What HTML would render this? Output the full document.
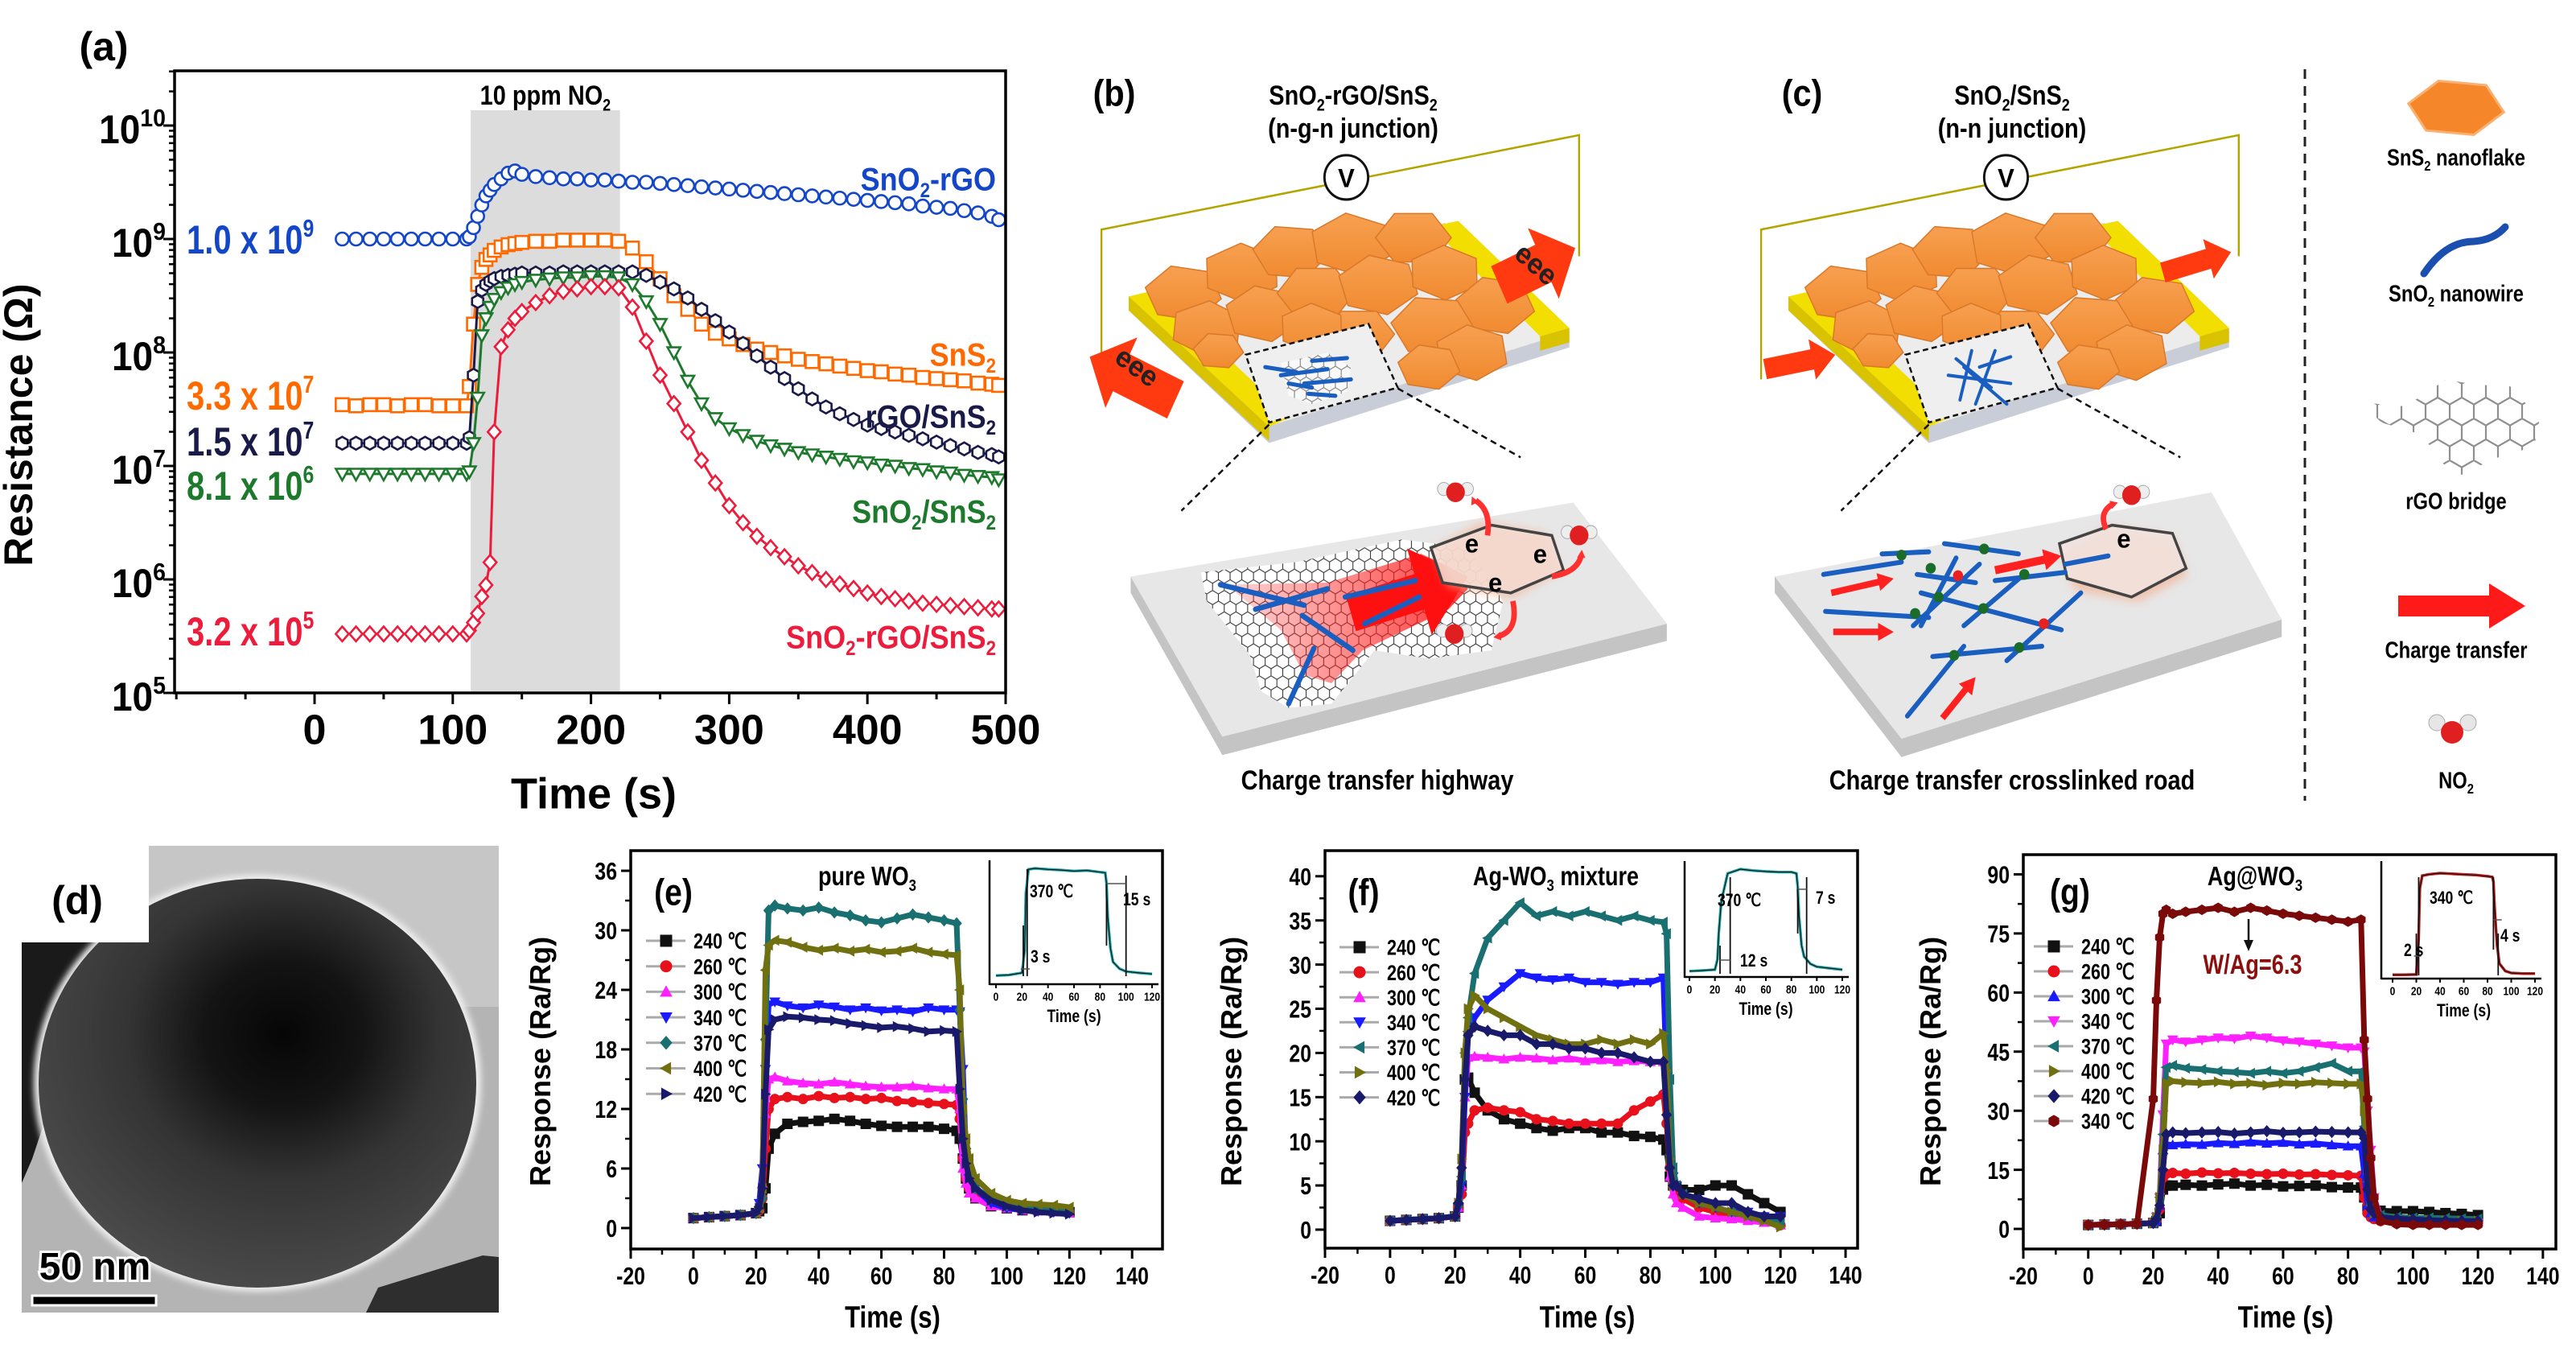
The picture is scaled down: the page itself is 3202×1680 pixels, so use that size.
<!DOCTYPE html>
<html><head><meta charset="utf-8">
<style>
html,body{margin:0;padding:0;background:#fff}
svg{display:block}
text{font-family:"Liberation Sans",sans-serif;font-weight:bold}
</style></head>
<body>
<svg id="fig" width="3202" height="1680" viewBox="0 0 3202 1680" xmlns="http://www.w3.org/2000/svg">
<defs>
  <pattern id="hexp" width="30" height="52" patternUnits="userSpaceOnUse">
    <rect width="30" height="52" fill="#fff"/>
    <path d="M15,0 L30,8.66 L30,26 L15,34.64 L0,26 L0,8.66 Z M15,34.64 L15,52 M0,26 L0,8.66" fill="none" stroke="#333" stroke-width="2.2"/>
  </pattern>
  <radialGradient id="temcore" cx="0.56" cy="0.38" r="0.65">
    <stop offset="0" stop-color="#060606"/>
    <stop offset="0.28" stop-color="#141414"/>
    <stop offset="0.55" stop-color="#343434"/>
    <stop offset="1" stop-color="#4c4c4c"/>
  </radialGradient>
  <linearGradient id="flakeg" x1="0" y1="0" x2="0" y2="1">
    <stop offset="0" stop-color="#f7a050"/>
    <stop offset="1" stop-color="#f08a30"/>
  </linearGradient>
  <linearGradient id="fang" x1="0" y1="0" x2="1" y2="0">
    <stop offset="0" stop-color="#ff3030" stop-opacity="0.2"/>
    <stop offset="1" stop-color="#ff1010" stop-opacity="0.85"/>
  </linearGradient>
  <filter id="blur4"><feGaussianBlur stdDeviation="4"/></filter>
  <filter id="blur12"><feGaussianBlur stdDeviation="12"/></filter>
</defs>
<rect x="0" y="0" width="3202" height="1680" fill="#fff"/>

<!-- Panel d TEM image -->
<g id="pd">
  <rect x="27" y="1051" width="593" height="580" fill="#b4b4b4"/>
  <rect x="185" y="1051" width="435" height="200" fill="#c6c6c6"/>
  <polygon points="27,1171 125,1171 118,1230 90,1290 60,1380 40,1440 27,1470" fill="#1a1a1a"/>
  <polygon points="455,1631 470,1600 600,1560 620,1562 620,1631" fill="#2e2e2e"/>
  <ellipse cx="320" cy="1346" rx="278" ry="259" fill="#eeeeee" filter="url(#blur4)"/>
  <ellipse cx="320" cy="1346" rx="272" ry="254" fill="url(#temcore)"/>
  <rect x="0" y="1040" width="185" height="131" fill="#fff"/>
  <text x="96" y="1136" font-size="50" text-anchor="middle">(d)</text>
  <text x="118" y="1590" font-size="48" text-anchor="middle" fill="#000" stroke="#fff" stroke-width="6" paint-order="stroke">50 nm</text>
  <rect x="40" y="1610" width="154" height="12" fill="#000" stroke="#fff" stroke-width="3"/>
</g>

<g id="pb" transform="translate(1340,150) scale(0.4847,0.5102)"></g>
<g id="pc" transform="translate(2160,150) scale(0.4847,0.5102)"></g>
<g id="labels"></g>

<line x1="2865" y1="86" x2="2865" y2="995" stroke="#222" stroke-width="3" stroke-dasharray="12,9"/>
<g id="legendCol"></g>

<g id="pa"></g>
<g id="pe"></g>
<g id="pf"></g>
<g id="pg"></g>
</svg>

<script>
// ---------------- DATA: panel (a) ----------------
const tA = [20,30,40,50,60,70,80,90,100,110,112,115,118,121,124,127,130,135,140,145,150,160,170,180,190,200,210,220,230,240,250,260,270,280,290,300,310,320,330,340,350,360,370,380,390,400,410,420,430,440,450,460,470,480,490,495];
const logR_SnO2rGO = [9.0,9.0,9.0,9.0,9.0,9.0,9.0,9.0,9.0,9.0,9.02,9.1,9.2,9.3,9.38,9.43,9.48,9.53,9.58,9.6,9.57,9.55,9.54,9.53,9.53,9.52,9.52,9.51,9.5,9.5,9.49,9.48,9.47,9.46,9.45,9.44,9.43,9.42,9.41,9.40,9.39,9.38,9.37,9.36,9.35,9.34,9.33,9.32,9.31,9.29,9.28,9.27,9.25,9.23,9.2,9.17];
const logR_SnS2 = [7.54,7.53,7.54,7.54,7.53,7.54,7.54,7.53,7.53,7.53,7.7,8.25,8.6,8.75,8.82,8.86,8.9,8.93,8.95,8.96,8.97,8.98,8.98,8.99,8.99,8.99,8.99,8.98,8.92,8.8,8.65,8.5,8.38,8.25,8.17,8.12,8.07,8.03,8.0,7.97,7.94,7.92,7.9,7.88,7.86,7.84,7.83,7.81,7.80,7.78,7.77,7.76,7.75,7.73,7.72,7.71];
const logR_rGOSnS2 = [7.2,7.2,7.2,7.2,7.2,7.2,7.2,7.2,7.2,7.2,7.25,7.8,8.45,8.55,8.6,8.63,8.65,8.67,8.68,8.69,8.7,8.7,8.7,8.71,8.71,8.71,8.71,8.71,8.71,8.68,8.62,8.56,8.48,8.38,8.28,8.18,8.08,7.97,7.87,7.77,7.68,7.59,7.52,7.46,7.41,7.36,7.33,7.3,7.27,7.24,7.21,7.18,7.15,7.12,7.1,7.08];
const logR_SnO2SnS2 = [6.93,6.93,6.93,6.93,6.93,6.93,6.93,6.93,6.93,6.93,6.95,7.2,7.6,8.15,8.3,8.4,8.47,8.53,8.57,8.6,8.62,8.64,8.65,8.66,8.66,8.67,8.67,8.66,8.6,8.45,8.25,8.0,7.75,7.55,7.42,7.33,7.27,7.22,7.18,7.15,7.12,7.1,7.08,7.06,7.04,7.03,7.01,7.0,6.98,6.97,6.95,6.94,6.92,6.91,6.9,6.88];
const logR_SnO2rGOSnS2 = [5.52,5.52,5.52,5.52,5.52,5.52,5.52,5.52,5.52,5.52,5.55,5.62,5.7,5.85,5.95,6.15,7.3,8.05,8.2,8.3,8.36,8.44,8.5,8.54,8.56,8.58,8.58,8.57,8.4,8.1,7.8,7.55,7.3,7.05,6.85,6.65,6.5,6.38,6.28,6.2,6.12,6.06,6.0,5.96,5.92,5.88,5.85,5.83,5.81,5.79,5.78,5.77,5.76,5.75,5.74,5.74];
const aXTicks = [0,100,200,300,400,500];
const aYDecades = [5,6,7,8,9,10];
const gasOn = [113,221];

// ---------------- DATA: panels (e)(f)(g) ----------------
const tW = [0,5,10,15,20,21,22,23,24,26,30,35,40,45,50,55,60,65,70,75,80,84,85,86,87,88,90,95,100,105,110,115,120];
const tempLabels = ['240 ℃','260 ℃','300 ℃','340 ℃','370 ℃','400 ℃','420 ℃'];
const tempLabelsG = ['240 ℃','260 ℃','300 ℃','340 ℃','370 ℃','400 ℃','420 ℃','340 ℃'];
const e240 = [1,1.1,1.2,1.3,1.5,1.7,2,4,8,9.5,10.5,10.7,10.8,11,10.8,10.5,10.3,10.2,10.2,10.2,10,9.8,9,7,5,4,3,2.2,2,1.8,1.8,1.7,1.6];
const e260 = [1,1.1,1.2,1.3,1.5,1.8,3,8,12,13,13.2,13,13.3,13.1,13.2,13,13.1,12.8,12.7,12.6,12.5,12.4,11,7,5,4,3.2,2.4,2.1,1.9,1.8,1.8,1.6];
const e300 = [1,1.1,1.2,1.3,1.5,2,4.5,11.5,15,15.2,14.8,14.6,14.5,14.7,14.5,14.3,14.2,14.2,14.3,14.1,14,14,12,6,4.5,3.5,3,2.2,2,1.8,1.7,1.6,1.5];
const e340 = [1,1.1,1.2,1.3,1.5,2.5,6,16,22.5,22.8,22.4,22.2,22.5,22.3,22,22.2,21.9,22,21.8,22.2,22,22,21.8,16,7,5,4,2.5,2,1.8,1.7,1.6,1.5];
const e370 = [1,1.1,1.2,1.3,1.5,2,3,19,32,32.5,32.2,32,32.3,31.8,31.5,31,30.8,31.2,31.6,31.3,31,30.7,22,13,8,6,4,3,2.3,2,1.9,1.8,1.7];
const e400 = [1,1.1,1.2,1.3,1.5,2,4,26,28.5,29,28.8,28.3,28,28.2,27.9,28.1,27.8,27.9,28.2,27.8,27.6,27.5,24,12,9,7,5,3.5,2.8,2.5,2.4,2.3,2.1];
const e420 = [1,1.1,1.2,1.3,1.5,2,4,13.5,20,21,21.3,21.2,21,20.9,20.6,20.4,20.2,20.3,20.1,19.8,19.9,19.8,14,9,6.5,5,4,2.8,2.2,1.8,1.6,1.5,1.4];

const f240 = [1,1.1,1.2,1.3,1.5,2.5,5,17,17.2,15.5,13.5,12.5,12,11.5,11.2,11.5,11.5,11,11,10.6,10.5,10.2,9,6,5,4.8,4.5,4.5,5,5,4,3,2];
const f260 = [1,1.1,1.2,1.3,1.5,2.5,4,11,12,13.5,13.8,13.5,13.3,12.5,12.3,12,12,12,12,13.5,14.5,15.3,12,7,5,4,3.5,2.5,2,1.5,1.2,1,0.5];
const f300 = [1,1.1,1.2,1.3,1.5,2.5,5,15,19.5,19.6,19.5,19.3,19.5,19.4,19.2,19.4,19.1,19.2,19,19.1,19,19,16,6,4,3,2.5,1.5,1.3,1.2,1,0.8,0.5];
const f340 = [1,1.1,1.2,1.3,1.5,2.5,5,15,22,24,26,27.5,29,28.5,28.3,28.5,28,28,27.8,28,28,28.5,17,8,6,5,4,3,2.5,2,2,1.5,1.5];
const f370 = [1,1.1,1.2,1.3,1.5,3,6,20,24,29,33,35,37,35.5,36,35.5,36,35.5,35,35.5,35,34.8,33.5,17,7,5,4,3,2.5,2,1.5,1.2,1];
const f400 = [1,1.1,1.2,1.3,1.5,3,8,20,25,26.5,25,24,23,22,21.5,21,21,21.5,21,21.5,21,22.2,18,8,5,5,4,3,2.5,2,1.5,1,0.3];
const f420 = [1,1.1,1.2,1.3,1.5,3,7,17,22,23,22.5,22,22,21,21,20.5,20.5,20,20,19.5,19,19,13,7,5,5,4,3.5,3,3,2,1.5,1.5];

const g240 = [1,1.1,1.2,1.3,1.5,2,4,10,11,11,11.2,11,11.3,11.5,11,11.2,10.8,10.9,11,10.6,10.5,10.5,8,5,5,4.8,4.6,4.5,4.5,4.3,4,3.8,3.5];
const g260 = [1,1.1,1.2,1.3,1.5,2,5,13,14,14.2,14,14.3,14.1,14.2,14,13.9,14,13.8,13.9,13.7,13.6,13.5,8,4,3,2.5,2,1.8,1.8,1.7,1.6,1.5,1.5];
const g300 = [1,1.1,1.2,1.3,1.5,2,6,20,21.5,21.3,21.5,21.4,21.8,21.6,22,21.7,21.9,21.5,21.7,21.3,21,21,14,6,4,3,2.5,2.2,2,2,2,1.9,1.8];
const g340 = [1,1.1,1.2,1.3,1.5,3,8,29,47,48,47.5,48,48.5,48.3,49,48.5,47.8,47.5,47,46.5,46,46,45,30,20,8,3,2,1.8,1.7,1.6,1.5,1.5];
const g370 = [1,1.1,1.2,1.3,1.5,3,8,24,41,41.5,40.8,40.5,40,39.8,39.5,40,39.5,40,41,42,40,40,26,12,6,4,3.5,3,2.8,2.8,2.7,2.6,2.5];
const g400 = [1,1.1,1.2,1.3,1.5,3,8,20,37,37.5,37.2,37,37.3,36.8,37,36.5,37,36.8,37.2,37,36.8,36.8,30,15,7,4,3,2.5,2.3,2.2,2.1,2,2];
const g420 = [1,1.1,1.2,1.3,1.5,2.5,6,15,24,24.5,24.3,24.5,24.6,24.2,24.5,24.8,24.4,24.5,24.7,24.6,24.5,24.5,23,10,5,4,3,2.6,2.4,2.2,2.1,2,2];
const g340b = [1,1.1,1.2,1.3,33,58,74,80,81,80,80.5,81,81.5,80.5,81.5,80.8,80,79.5,79,78.5,78,78.5,48,33,18,8,2,1.2,1,1,1,1,1];

const tIn = [0,10,20,22,23,25,30,40,50,60,70,80,84,85,86,88,90,95,100,110,120];
const insetE = [1,1.2,1.8,8,25,32,32.3,32,31.8,31.5,31.7,31.2,31,28,18,9,5,3,2.2,1.8,1.5];
const insetF = [1,1.2,1.5,5,14,25,34.5,36,35.5,35.2,35,35,34.5,30,20,10,6,3.5,2.5,2,1.5];
const insetG = [1,1.1,1.3,30,70,80,81,82,81.5,81,80.5,79.5,79,75,55,25,10,4,2.5,2,2];
const xTicksW = [-20,0,20,40,60,80,100,120,140];
const yTicksE = [0,6,12,18,24,30,36];
const yTicksF = [0,5,10,15,20,25,30,35,40];
const yTicksG = [0,15,30,45,60,75,90];
const insetXTicks = [0,20,40,60,80,100,120];

// ---------------- helpers ----------------
const NS = 'http://www.w3.org/2000/svg';
function mk(tag, parent, name) {
  const e = document.createElementNS(NS, tag);
  
  
  parent.appendChild(e);
  return e;
}
function at(e, o) { for (const k in o) e.setAttribute(k, o[k]); return e; }
function txt(parent, name, x, y, str, size, opt) {
  opt = opt || {};
  const g = mk('g', parent, name + '-wrap');
  at(g, {transform: `translate(${x},${y + size * 0.36})${opt.rot ? ' rotate(' + opt.rot + ')' : ''} scale(${opt.sx || 1},1)`});
  const t = mk('text', g, name);
  at(t, {x: 0, y: 0, 'font-size': size, 'text-anchor': opt.anchor || 'middle', fill: opt.color || '#000'});
  if (opt.weight) t.setAttribute('font-weight', opt.weight);
  const parts = str.split(/([_^]\{[^}]*\})/);
  let shift = 0;
  for (const p of parts) {
    if (!p) continue;
    const ts = mk('tspan', t, name + '-part');
    if (p[0] === '_' || p[0] === '^') {
      const d = p[0] === '_' ? size * 0.22 : -size * 0.42;
      ts.setAttribute('dy', (d - shift).toFixed(1));
      shift = d;
      ts.setAttribute('font-size', (size * 0.62).toFixed(1));
      ts.textContent = p.slice(2, -1);
    } else {
      ts.setAttribute('dy', (-shift).toFixed(1));
      shift = 0;
      ts.textContent = p;
    }
  }
  return t;
}
function line(parent, name, x1, y1, x2, y2, col, w, extra) {
  const l = mk('line', parent, name);
  at(l, {x1, y1, x2, y2, stroke: col, 'stroke-width': w});
  if (extra) at(l, extra);
  return l;
}
function poly(parent, name, pts, attrs) {
  const p = mk('polygon', parent, name);
  at(p, {points: pts.map(q => q.join(',')).join(' ')});
  at(p, attrs);
  return p;
}
function marker(parent, type, x, y, s, fill, stroke, sw, name) {
  let m;
  if (type === 'ci') {
    m = mk('circle', parent, name);
    at(m, {cx: x, cy: y, r: s});
  } else if (type === 'sq') {
    m = mk('rect', parent, name);
    at(m, {x: x - s, y: y - s, width: 2 * s, height: 2 * s});
  } else {
    let pts;
    if (type === 'tu') pts = [[x, y - s], [x + s, y + 0.8 * s], [x - s, y + 0.8 * s]];
    else if (type === 'td') pts = [[x, y + s], [x + s, y - 0.8 * s], [x - s, y - 0.8 * s]];
    else if (type === 'tl') pts = [[x - s, y], [x + 0.8 * s, y - s], [x + 0.8 * s, y + s]];
    else if (type === 'tr') pts = [[x + s, y], [x - 0.8 * s, y - s], [x - 0.8 * s, y + s]];
    else if (type === 'di') pts = [[x, y - s * 1.15], [x + s, y], [x, y + s * 1.15], [x - s, y]];
    else { pts = []; for (let k = 0; k < 6; k++) { const a = Math.PI / 3 * k + Math.PI / 6; pts.push([x + s * Math.cos(a), y + s * Math.sin(a)]); } }
    m = mk('polygon', parent, name);
    at(m, {points: pts.map(q => q[0].toFixed(1) + ',' + q[1].toFixed(1)).join(' ')});
  }
  at(m, {fill: fill, stroke: stroke, 'stroke-width': sw});
  return m;
}

// ---------------- panel (a) ----------------
(function () {
  const g = document.getElementById('pa');
  const L = 217, R = 1250, T = 88, B = 861;
  const xA = t => 391 + t * 1.718;
  const yA = lg => 156 + (10 - lg) * 141;
  const band = mk('rect', g, 'gas-exposure-band');
  at(band, {x: xA(gasOn[0]), y: 137, width: xA(gasOn[1]) - xA(gasOn[0]), height: B - 139, fill: '#dcdcdc'});
  txt(g, 'gas-band-label', xA((gasOn[0] + gasOn[1]) / 2), 118, '10 ppm NO_{2}', 34, {sx: 0.85});
  const series = [
    {v: logR_SnO2rGO, c: '#1446c8', m: 'ci', n: 'SnO2-rGO'},
    {v: logR_SnS2, c: '#ff6a00', m: 'sq', n: 'SnS2'},
    {v: logR_rGOSnS2, c: '#1a1a48', m: 'hx', n: 'rGO-SnS2'},
    {v: logR_SnO2SnS2, c: '#1d7a2c', m: 'td', n: 'SnO2-SnS2'},
    {v: logR_SnO2rGOSnS2, c: '#ec1c3c', m: 'di', n: 'SnO2-rGO-SnS2'}
  ];
  for (const s of series) {
    const sg = mk('g', g, 'series-' + s.n);
    const pl = mk('polyline', sg, 'line-' + s.n);
    at(pl, {points: tA.map((t, i) => xA(t).toFixed(1) + ',' + yA(s.v[i]).toFixed(1)).join(' '), fill: 'none', stroke: s.c, 'stroke-width': 3});
    tA.forEach((t, i) => {
      marker(sg, s.m, xA(t), yA(s.v[i]), 8, '#fff', s.c, 2.6, 'point-' + s.n);
    });
  }
  const fr = mk('rect', g, 'plot-frame-a');
  at(fr, {x: L, y: T, width: R - L, height: B - T, fill: 'none', stroke: '#000', 'stroke-width': 3.5});
  for (let t = -100; t <= 500; t += 50) {
    const major = aXTicks.includes(t);
    line(g, 'x-tick', xA(t), B, xA(t), B + (major ? 14 : 8), '#000', 3);
  }
  aXTicks.forEach(t => txt(g, 'x-tick-label', xA(t), 906, String(t), 52));
  aYDecades.forEach(d => {
    line(g, 'y-tick', L, yA(d), L - 14, yA(d), '#000', 3);
    txt(g, 'y-tick-label', 206, yA(d) + 4, '10^{' + d + '}', 50, {anchor: 'end', sx: 0.92});
    if (d < 10) for (let k = 2; k <= 9; k++) line(g, 'y-minor-tick', L, yA(d + Math.log10(k)), L - 7, yA(d + Math.log10(k)), '#000', 2.5);
  });
  for (let k = 2; k <= 3; k++) line(g, 'y-minor-tick', L, yA(10 + Math.log10(k)), L - 7, yA(10 + Math.log10(k)), '#000', 2.5);
  txt(g, 'x-axis-title', 738, 985, 'Time (s)', 54);
  txt(g, 'y-axis-title', 40, 510, 'Resistance (Ω)', 50, {rot: -90});
  txt(g, 'panel-a-label', 129, 57, '(a)', 50);
  const ann = [['1.0 x 10^{9}', 297, '#1446c8'], ['3.3 x 10^{7}', 491, '#ff6a00'], ['1.5 x 10^{7}', 548, '#1a1a48'], ['8.1 x 10^{6}', 603, '#1d7a2c'], ['3.2 x 10^{5}', 784, '#ec1c3c']];
  ann.forEach(a => txt(g, 'baseline-annotation', 232, a[1], a[0], 50, {anchor: 'start', sx: 0.8, color: a[2]}));
  const rl = [['SnO_{2}-rGO', 222, '#1446c8'], ['SnS_{2}', 440, '#ff6a00'], ['rGO/SnS_{2}', 517, '#1a1a48'], ['SnO_{2}/SnS_{2}', 635, '#1d7a2c'], ['SnO_{2}-rGO/SnS_{2}', 791, '#ec1c3c']];
  rl.forEach(a => txt(g, 'series-label', 1238, a[1], a[0], 40, {anchor: 'end', sx: 0.9, color: a[2]}));
})();

// ---------------- panels (e)(f)(g) ----------------
function respChart(cfg) {
  const g = document.getElementById(cfg.id);
  const sx = t => cfg.L + (t - cfg.xmin) * (cfg.R - cfg.L) / (cfg.xmax - cfg.xmin);
  const sy = v => cfg.B - (v - cfg.ymin) * (cfg.B - cfg.T) / (cfg.ymax - cfg.ymin);
  cfg.series.forEach((s, si) => {
    const sg = mk('g', g, 'series-' + cfg.labels[si].replace(' ℃', 'C'));
    const pl = mk('polyline', sg, 'trace');
    at(pl, {points: tW.map((t, i) => sx(t).toFixed(1) + ',' + sy(s.v[i]).toFixed(1)).join(' '), fill: 'none', stroke: s.c, 'stroke-width': 7, 'stroke-linejoin': 'round'});
    tW.forEach((t, i) => {
      marker(sg, s.m, sx(t), sy(s.v[i]), 6, s.c, s.c, 1, 'data-point');
    });
    const ly = cfg.legY + si * cfg.legStep;
    line(g, 'legend-line', cfg.legX - 25, ly, cfg.legX + 24, ly, '#aaa', 3);
    marker(g, s.m, cfg.legX, ly, 7, s.c, s.c, 1, 'legend-marker');
    txt(g, 'legend-label', cfg.legX + 34, ly, cfg.labels[si], 27, {anchor: 'start', sx: 0.8});
  });
  const fr = mk('rect', g, 'plot-frame');
  at(fr, {x: cfg.L, y: cfg.T, width: cfg.R - cfg.L, height: cfg.B - cfg.T, fill: 'none', stroke: '#000', 'stroke-width': 3.5});
  for (let i = 0; i < xTicksW.length; i++) {
    const t = xTicksW[i];
    line(g, 'x-tick', sx(t), cfg.B, sx(t), cfg.B + 12, '#000', 3);
    if (i < xTicksW.length - 1) line(g, 'x-minor-tick', sx(t + 10), cfg.B, sx(t + 10), cfg.B + 7, '#000', 2.5);
    txt(g, 'x-tick-label', sx(t), cfg.B + 33, String(t), 31, {sx: 0.8});
  }
  cfg.yticks.forEach((v, i) => {
    line(g, 'y-tick', cfg.L, sy(v), cfg.L - 12, sy(v), '#000', 3);
    if (i < cfg.yticks.length - 1) line(g, 'y-minor-tick', cfg.L, sy(v + cfg.ystep / 2), cfg.L - 7, sy(v + cfg.ystep / 2), '#000', 2.5);
    txt(g, 'y-tick-label', cfg.L - 17, sy(v), String(v), 31, {anchor: 'end', sx: 0.8});
  });
  txt(g, 'x-axis-title', (cfg.L + cfg.R) / 2 - 5, 1636, 'Time (s)', 38, {sx: 0.82});
  txt(g, 'y-axis-title', cfg.ytx, 1306, 'Response (Ra/Rg)', 36, {rot: -90});
  txt(g, 'panel-label', cfg.lab[0], cfg.lab[1], cfg.lab[2], 46, {sx: 0.85});
  txt(g, 'panel-title', cfg.title[0], 1088, cfg.title[1], 33, {sx: 0.82});
  const I = cfg.inset;
  const ix = t => I.x0 + t * (I.x120 - I.x0) / 120;
  const iy = v => I.B - (v - I.vmin) * (I.B - I.top) / (I.vmax - I.vmin);
  const ig = mk('g', g, 'inset-chart');
  line(ig, 'inset-y-axis', I.L, I.T, I.L, I.B + 1, '#000', 2.5);
  line(ig, 'inset-x-axis', I.L, I.B, I.x120 + 8, I.B, '#000', 2.5);
  insetXTicks.forEach(t => {
    line(ig, 'inset-x-tick', ix(t), I.B, ix(t), I.B + 5, '#000', 2);
    txt(ig, 'inset-x-tick-label', ix(t), I.B + 15, String(t), 15, {sx: 0.8});
  });
  txt(ig, 'inset-x-title', (I.x0 + I.x120) / 2, I.B + 39, 'Time (s)', 22, {sx: 0.8});
  const ipl = mk('polyline', ig, 'inset-trace');
  at(ipl, {points: tIn.map((t, i) => ix(t).toFixed(1) + ',' + iy(I.v[i]).toFixed(1)).join(' '), fill: 'none', stroke: I.c, 'stroke-width': 3.5});
  const ipl2 = mk('polyline', ig, 'inset-trace-core');
  at(ipl2, {points: tIn.map((t, i) => ix(t).toFixed(1) + ',' + iy(I.v[i]).toFixed(1)).join(' '), fill: 'none', stroke: '#111', 'stroke-width': 1.2});
  I.marks.forEach(m => line(ig, 'response-time-bracket', ix(m[0]), m[1], ix(m[0]), m[2], '#111', 1.8));
  I.hmarks.forEach(m => line(ig, 'response-time-bracket', ix(m[0]), m[2], ix(m[1]), m[2], '#555', 1.5));
  I.texts.forEach(s => txt(ig, 'inset-annotation', s[0], s[1], s[2], 22, {anchor: 'start', sx: 0.8}));
  if (cfg.extra) cfg.extra(g);
}
const cE = '#111', cR = '#e8101a', cM = '#ff20ff', cB = '#1a1aff', cT = '#1a7070', cO = '#707010', cN = '#1a1a6a', cD = '#7a0a0a';
respChart({id: 'pe', L: 784, R: 1445, T: 1057, B: 1552, xmin: -20, xmax: 149.7, ymin: -2.11, ymax: 38.03,
  yticks: yTicksE, ystep: 6, ytx: 684, lab: [837, 1108, '(e)'], title: [1078, 'pure WO_{3}'],
  labels: tempLabels, legX: 828, legY: 1169, legStep: 31.7,
  series: [{v: e240, c: cE, m: 'sq'}, {v: e260, c: cR, m: 'ci'}, {v: e300, c: cM, m: 'tu'}, {v: e340, c: cB, m: 'td'}, {v: e370, c: cT, m: 'di'}, {v: e400, c: cO, m: 'tl'}, {v: e420, c: cN, m: 'tr'}],
  inset: {L: 1230, T: 1069, B: 1223, x0: 1238, x120: 1432, top: 1079, vmin: -1.5, vmax: 32.3, v: insetE, c: '#20b0b0',
    marks: [[21, 1150, 1213], [24, 1080, 1213], [85, 1098, 1175], [100, 1088, 1213]], hmarks: [[85, 100, 1098], [19, 26, 1204]],
    texts: [[1280, 1107, '370 ℃'], [1396, 1117, '15 s'], [1281, 1188, '3 s']]}
});
respChart({id: 'pf', L: 1647, R: 2309, T: 1057, B: 1551, xmin: -20, xmax: 143.7, ymin: -2.1, ymax: 42.9,
  yticks: yTicksF, ystep: 5, ytx: 1543, lab: [1695, 1108, '(f)'], title: [1934, 'Ag-WO_{3} mixture'],
  labels: tempLabels, legX: 1690, legY: 1177, legStep: 31.1,
  series: [{v: f240, c: cE, m: 'sq'}, {v: f260, c: cR, m: 'ci'}, {v: f300, c: cM, m: 'tu'}, {v: f340, c: cB, m: 'td'}, {v: f370, c: cT, m: 'tl'}, {v: f400, c: cO, m: 'tr'}, {v: f420, c: cN, m: 'di'}],
  inset: {L: 2094, T: 1070, B: 1214, x0: 2100, x120: 2290, top: 1080, vmin: -1, vmax: 36, v: insetF, c: '#20b0b0',
    marks: [[24, 1175, 1210], [32, 1090, 1210], [85, 1105, 1160], [92, 1090, 1210]], hmarks: [[24, 32, 1193], [85, 92, 1105]],
    texts: [[2135, 1118, '370 ℃'], [2257, 1115, '7 s'], [2163, 1193, '12 s']]}
});
respChart({id: 'pg', L: 2515, R: 3177, T: 1062, B: 1552, xmin: -20, xmax: 144, ymin: -5.1, ymax: 95,
  yticks: yTicksG, ystep: 15, ytx: 2412, lab: [2573, 1108, '(g)'], title: [2803, 'Ag@WO_{3}'],
  labels: tempLabelsG, legX: 2553, legY: 1176, legStep: 31,
  series: [{v: g240, c: cE, m: 'sq'}, {v: g260, c: cR, m: 'ci'}, {v: g300, c: cB, m: 'tu'}, {v: g340, c: cM, m: 'td'}, {v: g370, c: cT, m: 'tl'}, {v: g400, c: cO, m: 'tr'}, {v: g420, c: cN, m: 'di'}, {v: g340b, c: cD, m: 'hx'}],
  inset: {L: 2960, T: 1070, B: 1216, x0: 2974, x120: 3151, top: 1085, vmin: -2, vmax: 82, v: insetG, c: '#d02020',
    marks: [[20, 1160, 1212], [22, 1090, 1212], [85, 1090, 1180], [89, 1160, 1212]], hmarks: [[18, 24, 1188], [85, 92, 1143]],
    texts: [[3020, 1115, '340 ℃'], [3108, 1162, '4 s'], [2988, 1180, '2 s']]},
  extra: function (g) {
    txt(g, 'ratio-annotation', 2800, 1198, 'W/Ag=6.3', 34, {sx: 0.8, color: '#8a1010'});
    line(g, 'ratio-arrow-shaft', 2795, 1142, 2795, 1172, '#111', 2.5);
    poly(g, 'ratio-arrow-head', [[2789, 1168], [2801, 1168], [2795, 1182]], {fill: '#111'});
  }
});

// ---------------- schematics (b), (c) ----------------
function hexPts(cx, cy, r, rot, sq) {
  const p = [];
  for (let k = 0; k < 6; k++) { const a = (Math.PI / 3) * k + rot; p.push([+(cx + r * Math.cos(a)).toFixed(1), +(cy + r * sq * Math.sin(a)).toFixed(1)]); }
  return p;
}
function arrowPts(x1, y1, x2, y2, w, hw, hl) {
  const dx = x2 - x1, dy = y2 - y1, len = Math.hypot(dx, dy), ux = dx / len, uy = dy / len, nx = -uy, ny = ux;
  const bx = x2 - ux * hl, by = y2 - uy * hl;
  return [[x1 + nx * w, y1 + ny * w], [bx + nx * w, by + ny * w], [bx + nx * hw, by + ny * hw], [x2, y2], [bx - nx * hw, by - ny * hw], [bx - nx * w, by - ny * w], [x1 - nx * w, y1 - ny * w]].map(q => [+q[0].toFixed(1), +q[1].toFixed(1)]);
}
const flakes = [[270,420,92,0.2],[420,370,95,0.5],[545,320,90,0.1],[700,300,100,0.4],[860,285,90,0.0],[330,505,88,0.6],[475,470,92,0.3],[610,420,92,0.0],[770,400,98,0.3],[940,370,88,0.5],[1070,450,95,0.2],[910,500,100,0.1],[1010,565,90,0.4],[720,520,85,0.0],[600,505,80,0.5],[900,600,75,0.2],[360,560,60,0.1]];
function upperBlock(g, pref) {
  poly(g, pref + 'substrate-side', [[135,430],[490,745],[1260,515],[1260,552],[490,785],[135,467]], {fill: '#c9cdd8'});
  poly(g, pref + 'substrate-top', [[135,430],[940,250],[1260,515],[490,745]], {fill: '#ececec', stroke: '#cfcfcf', 'stroke-width': 2});
  poly(g, pref + 'electrode-left', [[130,428],[200,412],[545,722],[490,745]], {fill: '#f2de00'});
  poly(g, pref + 'electrode-left-side', [[130,428],[490,745],[490,780],[130,462]], {fill: '#d9c200'});
  poly(g, pref + 'electrode-right', [[905,258],[975,244],[1260,505],[1185,525]], {fill: '#f2de00'});
  poly(g, pref + 'electrode-right-side', [[1185,525],[1260,505],[1260,540],[1185,560]], {fill: '#d9c200'});
  flakes.forEach(f => poly(g, pref + 'sns2-flake', hexPts(f[0], f[1], f[2] * 1.08, f[3], 0.7), {fill: 'url(#flakeg)', stroke: '#d9782a', 'stroke-width': 3}));
  poly(g, pref + 'zoom-box', [[430,570],[745,495],[820,650],[490,735]], {fill: '#efefef', stroke: '#111', 'stroke-width': 5, 'stroke-dasharray': '14,9'});
  const w = mk('polyline', g, pref + 'circuit-wire');
  at(w, {points: '60,630 60,265 1285,35 1285,330', fill: 'none', stroke: '#b4a400', 'stroke-width': 5});
  const v = mk('ellipse', g, pref + 'voltmeter');
  at(v, {cx: 688, cy: 138, rx: 56, ry: 54, fill: '#fff', stroke: '#111', 'stroke-width': 6});
  line(g, pref + 'zoom-line', 490, 740, 265, 950, '#111', 5, {'stroke-dasharray': '16,11'});
  line(g, pref + 'zoom-line', 820, 652, 1135, 820, '#111', 5, {'stroke-dasharray': '16,11'});
}
function lowerBlock(g, pref, pts) {
  const side = [pts[0], pts[3], pts[2], [pts[2][0], pts[2][1] + 42], [pts[3][0], pts[3][1] + 45], [pts[0][0], pts[0][1] + 40]];
  poly(g, pref + 'substrate-side', side, {fill: '#c4c4c4'});
  poly(g, pref + 'substrate-top', pts, {fill: '#e7e7e7'});
}
function molecule(g, name, x, y) {
  const h1 = mk('circle', g, name + '-o1'); at(h1, {cx: x - 30, cy: y - 8, r: 16, fill: '#eee', stroke: '#aaa', 'stroke-width': 2});
  const h2 = mk('circle', g, name + '-o2'); at(h2, {cx: x + 30, cy: y - 8, r: 16, fill: '#eee', stroke: '#aaa', 'stroke-width': 2});
  const n = mk('circle', g, name + '-n'); at(n, {cx: x, cy: y, r: 24, fill: '#e02020'});
}
function curvedArrow(g, name, d, hx, hy, ang) {
  const p = mk('path', g, name); at(p, {d: d, fill: 'none', stroke: '#ff3030', 'stroke-width': 14});
  poly(g, name + '-head', [[hx, hy], [hx - 22 * Math.cos(ang - 0.5), hy - 22 * Math.sin(ang - 0.5)].map(v => +v.toFixed(1)), [hx - 22 * Math.cos(ang + 0.5), hy - 22 * Math.sin(ang + 0.5)].map(v => +v.toFixed(1))], {fill: '#ff3030'});
}
(function () {
  const b = document.getElementById('pb');
  upperBlock(b, 'b-');
  const hb = mk('polygon', b, 'b-inner-rgo');
  at(hb, {points: '520,590 640,565 700,600 690,660 600,690 540,670', fill: 'url(#hexp)', opacity: 0.6});
  [[480,600,560,612],[520,620,640,605],[580,640,700,630],[590,665,660,670],[600,585,690,578],[540,640,600,650]].forEach(r => line(b, 'b-inner-nanowire', r[0], r[1], r[2], r[3], '#1a5fc0', 10, {'stroke-linecap': 'round'}));
  poly(b, 'b-arrow-left', arrowPts(250, 680, 30, 575, 50, 95, 90), {fill: '#ff3a10'});
  poly(b, 'b-arrow-right', arrowPts(1080, 400, 1275, 310, 50, 95, 90), {fill: '#ff3a10'});
  const tl = mk('text', b, 'b-electron-label-left'); at(tl, {x: 0, y: 0, 'font-size': 70, transform: 'translate(90,585) rotate(35)', fill: '#222'}); tl.textContent = 'eee';
  const tr = mk('text', b, 'b-electron-label-right'); at(tr, {x: 0, y: 0, 'font-size': 70, transform: 'translate(1115,330) rotate(40)', fill: '#222'}); tr.textContent = 'eee';
  const vt = mk('text', b, 'b-voltmeter-label'); at(vt, {x: 688, y: 162, 'font-size': 64, 'text-anchor': 'middle', 'font-weight': 'normal'}); vt.textContent = 'V';
  lowerBlock(b, 'b-lower-', [[135,1110],[1270,930],[1510,1225],[370,1500]]);
  poly(b, 'b-rgo-sheet', [[315,1100],[560,1075],[830,1020],[1000,1040],[1090,1170],[1060,1290],[900,1310],[760,1290],[650,1420],[540,1430],[470,1390],[440,1300],[330,1170]], {fill: 'url(#hexp)'});
  poly(b, 'b-charge-fan', [[380,1130],[640,1125],[880,1055],[960,1090],[1000,1140],[950,1190],[730,1290],[650,1370],[580,1350],[520,1240]], {fill: 'url(#fang)'});
  poly(b, 'b-big-arrow', arrowPts(700, 1200, 1000, 1110, 45, 110, 130), {fill: '#ff1010'});
  const glow = mk('polygon', b, 'b-flake-glow'); at(glow, {points: hexPts(1075, 1070, 170, 0.3, 0.55).map(q => q.join(',')).join(' '), fill: '#f4b090', filter: 'url(#blur12)', opacity: 0.7});
  poly(b, 'b-sns2-flake-zoom', [[905,1040],[1060,985],[1215,1010],[1245,1095],[1110,1150],[935,1125]], {fill: '#f4dcd2', stroke: '#444', 'stroke-width': 7, 'fill-opacity': 0.85});
  [[1010,1030],[1185,1055],[1070,1125]].forEach(p => { const e = mk('text', b, 'b-electron'); at(e, {x: p[0], y: p[1] + 22, 'font-size': 64, 'text-anchor': 'middle', 'font-weight': 'normal'}); e.textContent = 'e'; });
  [[365,1130,580,1180],[455,1190,640,1140],[575,1205,705,1290],[540,1420,605,1285],[685,1160,865,1120],[735,1225,875,1160]].forEach(r => line(b, 'b-sno2-nanowire', r[0], r[1], r[2], r[3], '#1a5fc0', 13, {'stroke-linecap': 'round'}));
  molecule(b, 'b-no2-a', 968, 905);
  molecule(b, 'b-no2-b', 1285, 1010);
  molecule(b, 'b-no2-c', 965, 1250);
  curvedArrow(b, 'b-desorb-arrow', 'M1050,1010 Q1060,950 1020,925', 1010, 915, -2.0);
  curvedArrow(b, 'b-desorb-arrow', 'M1215,1110 Q1280,1100 1290,1060', 1292, 1045, -1.5);
  curvedArrow(b, 'b-desorb-arrow', 'M1115,1170 Q1130,1240 1080,1255', 1065, 1258, 3.0);

  const c = document.getElementById('pc');
  upperBlock(c, 'c-');
  [[560,580,650,650],[600,560,570,680],[620,600,700,575],[540,620,700,640],[660,560,610,690],[580,600,690,690]].forEach(r => line(c, 'c-inner-nanowire', r[0], r[1], r[2], r[3], '#1a5fc0', 8, {'stroke-linecap': 'round'}));
  poly(c, 'c-arrow-left', arrowPts(70, 605, 250, 570, 25, 50, 60), {fill: '#ff3a10'});
  poly(c, 'c-arrow-right', arrowPts(1090, 370, 1265, 320, 25, 50, 60), {fill: '#ff3a10'});
  const vt2 = mk('text', c, 'c-voltmeter-label'); at(vt2, {x: 688, y: 162, 'font-size': 64, 'text-anchor': 'middle', 'font-weight': 'normal'}); vt2.textContent = 'V';
  lowerBlock(c, 'c-lower-', [[95,1110],[1215,905],[1395,1215],[420,1505]]);
  const glow2 = mk('polygon', c, 'c-flake-glow'); at(glow2, {points: hexPts(990, 1080, 170, 0.3, 0.55).map(q => q.join(',')).join(' '), fill: '#f4b090', filter: 'url(#blur12)', opacity: 0.7});
  poly(c, 'c-sns2-flake-zoom', [[825,1030],[960,985],[1115,1005],[1150,1090],[1010,1160],[845,1115]], {fill: '#f1e4e0', stroke: '#444', 'stroke-width': 7, 'fill-opacity': 0.85});
  const ce = mk('text', c, 'c-electron'); at(ce, {x: 990, y: 1040, 'font-size': 64, 'text-anchor': 'middle', 'font-weight': 'normal'}); ce.textContent = 'e';
  [[220,1105,420,1075],[370,1055,490,1050],[530,1030,720,1055],[460,1105,610,1125],[560,1065,470,1230],[620,1080,450,1230],[225,1195,490,1210],[470,1150,830,1240],[660,1120,840,1100],[580,1230,740,1100],[500,1305,780,1280],[435,1450,580,1280],[690,1315,880,1150],[840,1080,950,1060]].forEach(r => line(c, 'c-sno2-nanowire', r[0], r[1], r[2], r[3], '#1a5fc0', 12, {'stroke-linecap': 'round'}));
  [[420,1058],[495,1090],[632,1043],[515,1160],[630,1188],[455,1200],[555,1302],[722,1283],[735,1105]].forEach(p => { const d = mk('circle', c, 'c-junction-dot'); at(d, {cx: p[0], cy: p[1], r: 13, fill: '#1b6b2a'}); });
  [[565,1108],[785,1225]].forEach(p => { const d = mk('circle', c, 'c-junction-dot-red'); at(d, {cx: p[0], cy: p[1], r: 13, fill: '#e82020'}); });
  poly(c, 'c-charge-arrow', arrowPts(240, 1150, 400, 1115, 8, 22, 40), {fill: '#ff2020'});
  poly(c, 'c-charge-arrow', arrowPts(245, 1245, 400, 1245, 8, 22, 40), {fill: '#ff2020'});
  poly(c, 'c-charge-arrow', arrowPts(525, 1455, 610, 1355, 8, 22, 40), {fill: '#ff2020'});
  poly(c, 'c-charge-arrow', arrowPts(660, 1095, 830, 1060, 10, 26, 45), {fill: '#ff2020'});
  molecule(c, 'c-no2', 1010, 912);
  curvedArrow(c, 'c-desorb-arrow', 'M945,995 Q925,955 960,935', 975, 930, -0.3);

  const L = document.getElementById('labels');
  txt(L, 'panel-b-label', 1385, 115, '(b)', 46, {sx: 0.9});
  txt(L, 'panel-b-title', 1682, 118, 'SnO_{2}-rGO/SnS_{2}', 34, {sx: 0.85});
  txt(L, 'panel-b-subtitle', 1682, 159, '(n-g-n junction)', 34, {sx: 0.85});
  txt(L, 'panel-b-caption', 1712, 969, 'Charge transfer highway', 34, {sx: 0.85});
  txt(L, 'panel-c-label', 2240, 115, '(c)', 46, {sx: 0.9});
  txt(L, 'panel-c-title', 2501, 118, 'SnO_{2}/SnS_{2}', 34, {sx: 0.85});
  txt(L, 'panel-c-subtitle', 2501, 159, '(n-n junction)', 34, {sx: 0.85});
  txt(L, 'panel-c-caption', 2501, 969, 'Charge transfer crosslinked road', 34, {sx: 0.85});

  const G = document.getElementById('legendCol');
  poly(G, 'legend-sns2-icon', hexPts(3053, 134, 60, 0.15, 0.6), {fill: '#f6862a', stroke: '#f9b070', 'stroke-width': 3});
  txt(G, 'legend-sns2-label', 3053, 195, 'SnS_{2} nanoflake', 29, {sx: 0.82});
  const wp = mk('path', G, 'legend-sno2-icon'); at(wp, {d: 'M3013,340 Q3040,300 3075,300 Q3100,298 3114,282', fill: 'none', stroke: '#1a4fb0', 'stroke-width': 9, 'stroke-linecap': 'round'});
  txt(G, 'legend-sno2-label', 3053, 364, 'SnO_{2} nanowire', 29, {sx: 0.82});
  poly(G, 'legend-rgo-icon', [[2935,500],[2990,505],[3040,472],[3080,478],[3120,480],[3157,520],[3150,555],[3100,570],[3060,590],[3040,580],[3010,540],[2960,525]], {fill: 'url(#hexp)', opacity: 0.55});
  txt(G, 'legend-rgo-label', 3053, 622, 'rGO bridge', 29, {sx: 0.82});
  poly(G, 'legend-charge-icon', arrowPts(2981, 753, 3139, 753, 13, 28, 45), {fill: '#ff1a1a'});
  txt(G, 'legend-charge-label', 3053, 807, 'Charge transfer', 29, {sx: 0.82});
  const o1 = mk('circle', G, 'legend-no2-o1'); at(o1, {cx: 3029, cy: 898, r: 10, fill: '#e6e6e6', stroke: '#aaa'});
  const o2 = mk('circle', G, 'legend-no2-o2'); at(o2, {cx: 3068, cy: 898, r: 10, fill: '#e6e6e6', stroke: '#aaa'});
  const nn = mk('circle', G, 'legend-no2-n'); at(nn, {cx: 3048, cy: 910, r: 14, fill: '#e02020'});
  txt(G, 'legend-no2-label', 3053, 969, 'NO_{2}', 29, {sx: 0.82});
})();
</script>
</body></html>
